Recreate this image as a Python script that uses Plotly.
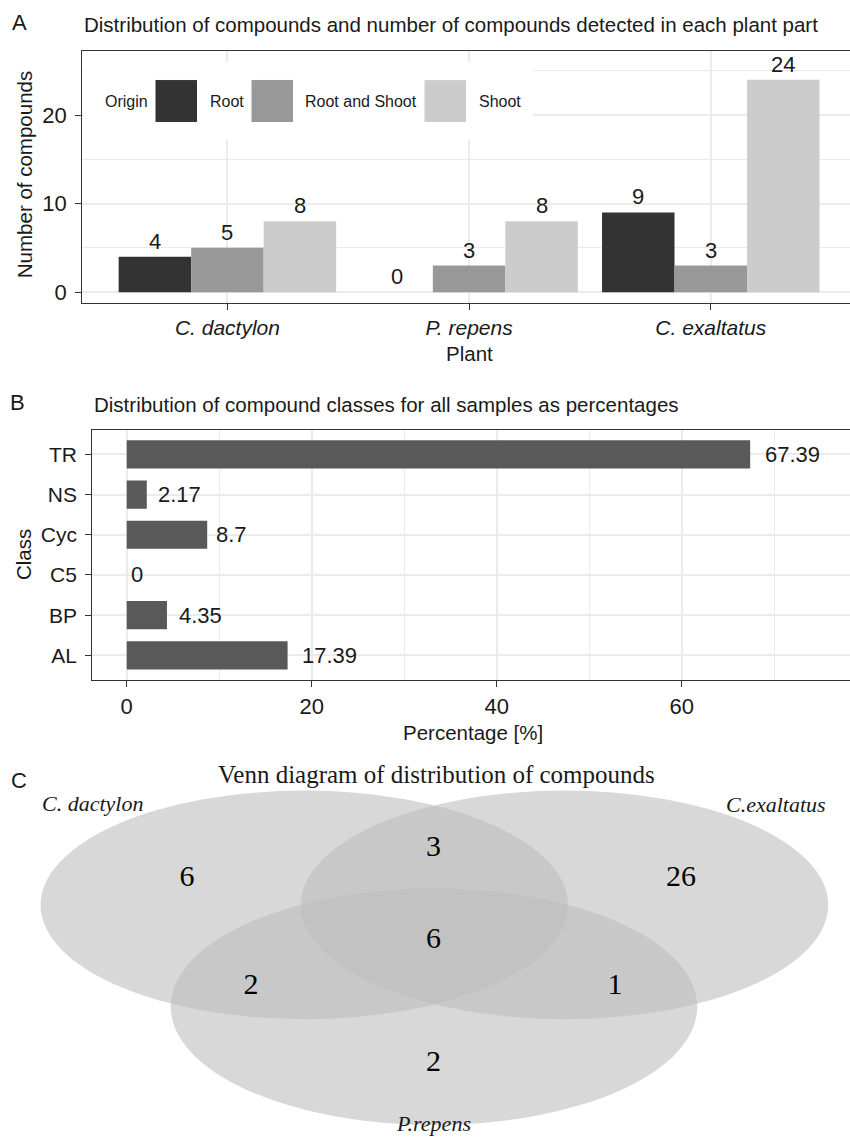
import plotly.graph_objects as go

W, H = 850, 1138
SANS = "Liberation Sans, Arial, sans-serif"
SERIF = "Liberation Serif, Times New Roman, serif"
INK = "#1a1a1a"

# ---------------- data ----------------
plants = ["C. dactylon", "P. repens", "C. exaltatus"]
origins = ["Root", "Root and Shoot", "Shoot"]
root_counts = [4, 0, 9]
root_shoot_counts = [5, 3, 3]
shoot_counts = [8, 8, 24]

classes = ["AL", "BP", "C5", "Cyc", "NS", "TR"]
class_pct = [17.39, 4.35, 0, 8.7, 2.17, 67.39]

venn_sets = ["C. dactylon", "C.exaltatus", "P.repens"]
venn_regions = ["C. dactylon only", "C. dactylon & C.exaltatus", "C.exaltatus only",
                "all three", "C. dactylon & P.repens", "C.exaltatus & P.repens", "P.repens only"]
venn_counts = [6, 3, 26, 6, 2, 1, 2]

# ---------------- layout helpers ----------------
def fx(p):
    return p / W


def fy(p):
    return 1 - p / H


fig = go.Figure()
annotations = []
shapes = []

# ---------------- panel A ----------------
bar_colors = ["#333333", "#989898", "#cccccc"]
offsets = [-0.45, -0.15, 0.15]
series = [root_counts, root_shoot_counts, shoot_counts]
for name, vals, col, off in zip(origins, series, bar_colors, offsets):
    fig.add_trace(go.Bar(x=plants, y=vals, name=name, width=0.3, offset=off,
                         marker=dict(color=col, line=dict(width=0)),
                         xaxis="x", yaxis="y", showlegend=False))
    for i, v in enumerate(vals):
        annotations.append(dict(x=i + off + 0.15, y=v, xref="x", yref="y", text=str(v),
                                showarrow=False, yanchor="bottom", yshift=1,
                                font=dict(family=SANS, size=22, color=INK)))

# ---------------- panel B ----------------
fig.add_trace(go.Bar(x=class_pct, y=classes, orientation="h", width=0.7, offset=-0.35,
                     marker=dict(color="#595959", line=dict(width=0)),
                     xaxis="x2", yaxis="y2", showlegend=False))
VAL_FONT = 22
for c, v in zip(classes, class_pct):
    txt = f"{v:g}"
    tw = sum(0.278 if ch == "." else 0.556 for ch in txt) * VAL_FONT
    annotations.append(dict(x=v, y=c, xref="x2", yref="y2", text=txt, showarrow=False,
                            xanchor="left", yanchor="middle", xshift=0.25 * tw - 1,
                            font=dict(family=SANS, size=VAL_FONT, color=INK)))

# ---------------- panel C (Venn) ----------------
venn_ellipses = [(304.3, 906.5, 263.7, 114.5),
                 (564.5, 906.5, 263.7, 114.5),
                 (434.0, 1008.5, 263.3, 118.5)]
for cx, cy, rx, ry in venn_ellipses:
    shapes.append(dict(type="circle", xref="x3", yref="y3", x0=cx - rx, x1=cx + rx,
                       y0=cy - ry, y1=cy + ry, fillcolor="rgb(190,190,190)",
                       opacity=0.6, line=dict(width=0), layer="below"))
venn_text_pos = [(187, 880), (433.6, 850), (681, 880), (433.6, 941.7),
                 (251, 988), (615, 988), (433.6, 1065)]
fig.add_trace(go.Scatter(x=[p[0] for p in venn_text_pos], y=[p[1] for p in venn_text_pos],
                         mode="text", text=[str(c) for c in venn_counts],
                         customdata=venn_regions, hovertemplate="%{customdata}: %{text}<extra></extra>",
                         textposition="middle center",
                         textfont=dict(family=SERIF, size=30, color="black"),
                         xaxis="x3", yaxis="y3", showlegend=False))

venn_label_pos = [(40, 805, "left"), (828, 806, "right"), (433.6, 1125, "center")]
for name, (x, y, anc) in zip(venn_sets, venn_label_pos):
    annotations.append(dict(x=fx(x), y=fy(y), xref="paper", yref="paper", text=name,
                            showarrow=False, xanchor=anc, yanchor="middle",
                            font=dict(family=SERIF, size=22, color=INK, style="italic")))
annotations.append(dict(x=fx(436), y=fy(776), xref="paper", yref="paper",
                        text="Venn diagram of distribution of compounds", showarrow=False,
                        xanchor="center", yanchor="middle",
                        font=dict(family=SERIF, size=25, color=INK)))

# ---------------- legend of panel A (drawn) ----------------
shapes.append(dict(type="rect", xref="paper", yref="paper", x0=fx(84), x1=fx(533),
                   y0=fy(140), y1=fy(62), fillcolor="white", line=dict(width=0), layer="above"))
legend_key_x = [155, 251, 424]
legend_label_x = [207.7, 303, 476.7]
for col, kx, lx, name in zip(bar_colors, legend_key_x, legend_label_x, origins):
    shapes.append(dict(type="rect", xref="paper", yref="paper", x0=fx(kx), x1=fx(kx + 42.5),
                       y0=fy(122.7), y1=fy(79.7), fillcolor=col,
                       line=dict(width=1, color="white"), layer="above"))
    annotations.append(dict(x=fx(lx), y=fy(102), xref="paper", yref="paper", text=name,
                            showarrow=False, xanchor="left", yanchor="middle",
                            font=dict(family=SANS, size=16, color=INK)))
annotations.append(dict(x=fx(102.7), y=fy(102), xref="paper", yref="paper", text="Origin",
                        showarrow=False, xanchor="left", yanchor="middle",
                        font=dict(family=SANS, size=16, color=INK)))

# ---------------- titles, panel letters, axis titles ----------------
texts = [
    ("A", 19, 23, "center", 22, 0),
    ("B", 17.5, 403, "center", 22, 0),
    ("C", 19, 781.5, "center", 22, 0),
    ("Distribution of compounds and number of compounds detected in each plant part", 82.4, 25, "left", 20.5, 0),
    ("Distribution of compound classes for all samples as percentages", 92.3, 405, "left", 20.5, 0),
    ("Number of compounds", 24.5, 175, "center", 20.5, -90),
    ("Plant", 469, 354, "center", 20.5, 0),
    ("Class", 23, 556, "center", 20.5, -90),
    ("Percentage [%]", 473, 734, "center", 20.5, 0),
]
for t, x, y, anc, sz, ang in texts:
    annotations.append(dict(x=fx(x), y=fy(y), xref="paper", yref="paper", text=t,
                            showarrow=False, xanchor=anc, yanchor="middle", textangle=ang,
                            font=dict(family=SANS, size=sz, color=INK)))

GRID = "#ebebeb"
FRAME = "#333333"
axis_common = dict(showline=True, linecolor=FRAME, linewidth=1.3, ticks="outside", ticklen=6,
                   tickcolor=FRAME, tickwidth=1.3, showgrid=True, gridcolor=GRID, gridwidth=1.6,
                   zeroline=False, tickfont=dict(family=SANS, size=22, color=INK), fixedrange=True)

fig.update_layout(
    width=W, height=H, autosize=False,
    margin=dict(l=0, r=0, t=0, b=0, pad=0),
    paper_bgcolor="white", plot_bgcolor="white",
    barmode="overlay",
    showlegend=False,
    xaxis=dict(axis_common, domain=[fx(82.4), 1], range=[-0.6, 2.576], anchor="y",
               mirror=True, type="category", categoryorder="array", categoryarray=plants,
               tickfont=dict(family=SANS, size=21, color=INK, style="italic"),
               ticklabelstandoff=0),
    yaxis=dict(axis_common, domain=[fy(303.3), fy(50.7)], range=[-1.2, 27.28], anchor="x",
               tick0=0, dtick=10, ticklabelstandoff=4,
               minor=dict(dtick=5, showgrid=True, gridcolor=GRID, gridwidth=0.8, ticks="")),
    xaxis2=dict(axis_common, domain=[fx(92.3), 1], range=[-3.72, 78.18], anchor="y2",
                mirror=True, tick0=0, dtick=20, ticklabelstandoff=1,
                minor=dict(dtick=10, showgrid=True, gridcolor=GRID, gridwidth=0.8, ticks="")),
    yaxis2=dict(axis_common, domain=[fy(680.7), fy(431)], range=[-0.6, 5.6], anchor="x2",
                type="category", categoryorder="array", categoryarray=classes,
                tickfont=dict(family=SANS, size=21, color=INK), ticklabelstandoff=4),
    xaxis3=dict(domain=[0, 1], range=[0, W], visible=False, anchor="y3", fixedrange=True),
    yaxis3=dict(domain=[0, fy(760)], range=[H, 760], visible=False, anchor="x3", fixedrange=True),
    shapes=shapes,
    annotations=annotations,
)

fig.write_html("out.html", config={"displayModeBar": False},
               post_script="document.body.style.margin='0';document.body.style.padding='0';"
                           "document.body.style.overflow='hidden';")
